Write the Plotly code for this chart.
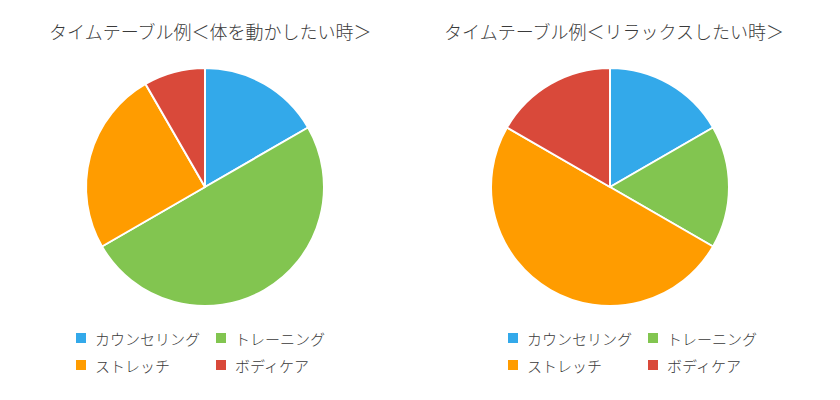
import plotly.graph_objects as go

categories = ["カウンセリング", "トレーニング", "ストレッチ", "ボディケア"]
values_move = [10, 30, 15, 5]
values_relax = [10, 10, 30, 10]
titles = ["タイムテーブル例＜体を動かしたい時＞", "タイムテーブル例＜リラックスしたい時＞"]
colors = ["#33A9EA", "#82C550", "#FF9C00", "#D9493A"]

W, H = 840, 400
OFF = 8  # page body margin
FONT = "Noto Sans CJK JP"

fig = go.Figure()

def px_x(v):
    return (v - OFF) / W

def px_y(v):
    return (H - (v - OFF)) / H

pie_domains = [
    dict(x=[px_x(86), px_x(324)], y=[px_y(306), px_y(68)]),
    dict(x=[px_x(491), px_x(729)], y=[px_y(306), px_y(68)]),
]
for vals, dom in zip([values_move, values_relax], pie_domains):
    fig.add_trace(go.Pie(
        labels=categories, values=vals, domain=dom,
        sort=False, direction="clockwise", rotation=0,
        marker=dict(colors=colors, line=dict(color="white", width=2)),
        textinfo="none", hoverinfo="label+value+percent", showlegend=False,
    ))

# custom legends (two columns under each pie)
legend_origins = [(81, 338), (513, 338)]
col_dx, row_dy = 140, 27
for ox, oy in legend_origins:
    xs, ys = [], []
    for i in range(len(categories)):
        xs.append(ox + (i % 2) * col_dx - OFF)
        ys.append(oy + (i // 2) * row_dy - OFF)
    fig.add_trace(go.Scatter(
        x=xs, y=ys, mode="markers", xaxis="x", yaxis="y",
        marker=dict(symbol="square", size=10, color=colors, line=dict(width=0)),
        hoverinfo="skip", showlegend=False,
    ))
    for x, y, lab in zip(xs, ys, categories):
        fig.add_annotation(x=x + 12, y=y, xref="x", yref="y", text=lab,
                           showarrow=False, xanchor="left", yanchor="middle",
                           font=dict(family=FONT, size=15, color="#3a3a3a", weight=300))

title_pos = [(210, 31), (614, 31)]
for (tx, ty), t in zip(title_pos, titles):
    fig.add_annotation(x=tx - OFF, y=ty - OFF, xref="x", yref="y", text=t, showarrow=False,
                       xanchor="center", yanchor="middle",
                       font=dict(family=FONT, size=18, color="#3a3a3a", weight=300))

fig.update_layout(
    width=W, height=H, margin=dict(l=0, r=0, t=0, b=0),
    paper_bgcolor="white", plot_bgcolor="rgba(0,0,0,0)",
    font=dict(family=FONT),
    xaxis=dict(range=[0, W], visible=False, domain=[0, 1], fixedrange=True),
    yaxis=dict(range=[H, 0], visible=False, domain=[0, 1], fixedrange=True),
)

fig.write_html("out.html")
